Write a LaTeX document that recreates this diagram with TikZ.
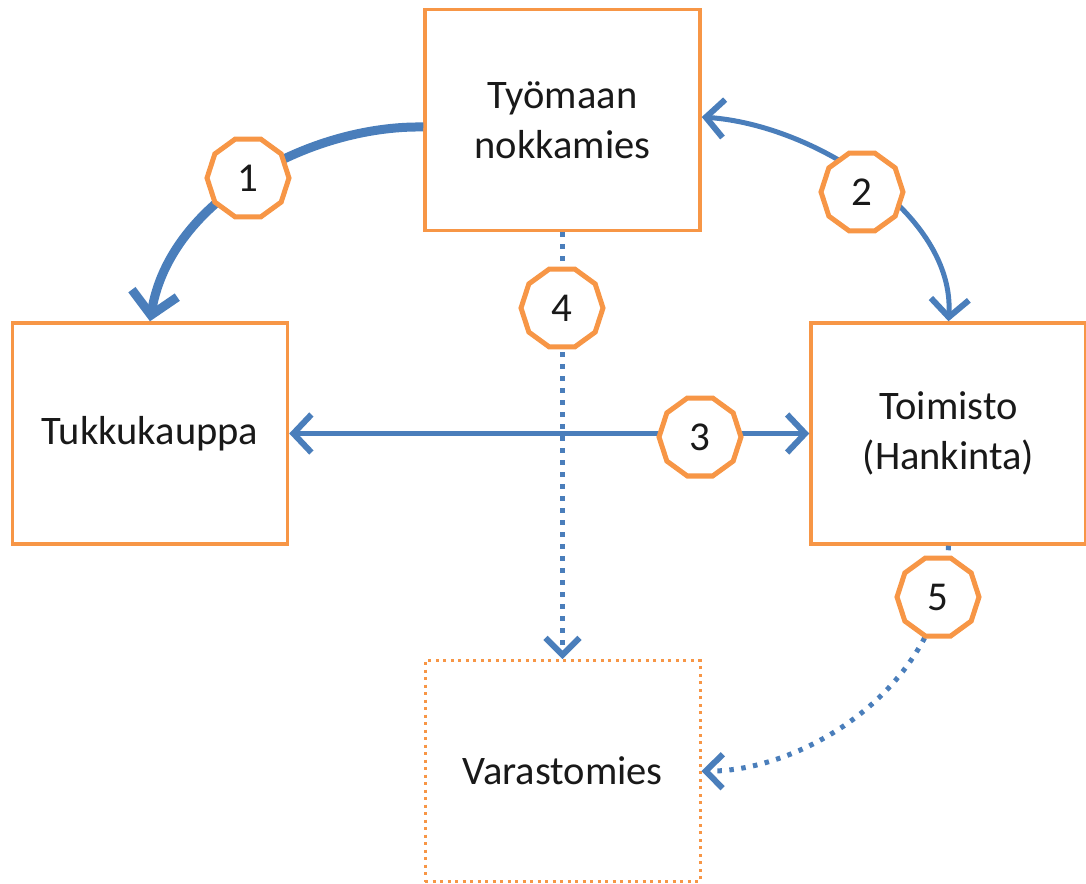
\documentclass[tikz,border=0pt]{standalone}
\usepackage{fontspec}
\setmainfont{Carlito}
\usetikzlibrary{arrows.meta,shapes.geometric}
\definecolor{ora}{HTML}{F79646}
\definecolor{blu}{HTML}{4A7EBB}
\begin{document}
\begin{tikzpicture}[x=1pt,y=-1pt,
  box/.style={draw=ora, line width=3.5pt, fill=white, minimum width=275pt, minimum height=221pt, inner sep=0pt, align=center, font=\fontsize{40.5}{50}\selectfont, text=black!90},
  dotbox/.style={box, line width=3pt, dash pattern=on 3pt off 4.5pt},
  badge/.style={draw=ora, line width=5pt, fill=white, regular polygon, regular polygon sides=10, minimum size=82pt, inner sep=0pt, font=\fontsize{41}{41}\selectfont, text=black!90},
  flow/.style={draw=blu, line width=5pt, {Straight Barb[length=18pt,width=38pt,line width=6pt]}-{Straight Barb[length=18pt,width=38pt,line width=6pt]}},
  dotflow/.style={draw=blu, line width=5pt, dash pattern=on 4.5pt off 7.5pt, -{Straight Barb[length=17pt,width=34pt,line width=6pt]}}
]
\useasboundingbox (0,0) rectangle (1086,883);
\node[box] (top) at (562.5,120) {Työmaan\\nokkamies};
\node[box] (tk) at (150,433.5) {Tukkukauppa};
\node[box] (to) at (948.5,433.5) {Toimisto\\(Hankinta)};
\node[dotbox] (va) at (562.5,771) {Varastomies};

\draw[draw=blu, line width=9pt, -{Straight Barb[length=22pt,width=46pt,line width=9pt]}] ([yshift=-7pt]top.west) .. controls (310,125) and (170,200) .. (tk.north);
\draw[flow] ([yshift=3pt]top.east) .. controls (815,125) and (955,215) .. (to.north);
\draw[flow] (tk.east) -- (to.west);
\draw[dotflow] (top.south) -- (va.north);
\draw[dotflow] (to.south) .. controls (945,690) and (800,772) .. (va.east);

\node[badge] (b1) at (248,178) {1};
\node[badge] (b2) at (862,192) {2};
\node[badge] (b3) at (700,437) {3};
\node[badge] (b4) at (562,308) {4};
\node[badge] (b5) at (938,597) {5};
\end{tikzpicture}
\end{document}
